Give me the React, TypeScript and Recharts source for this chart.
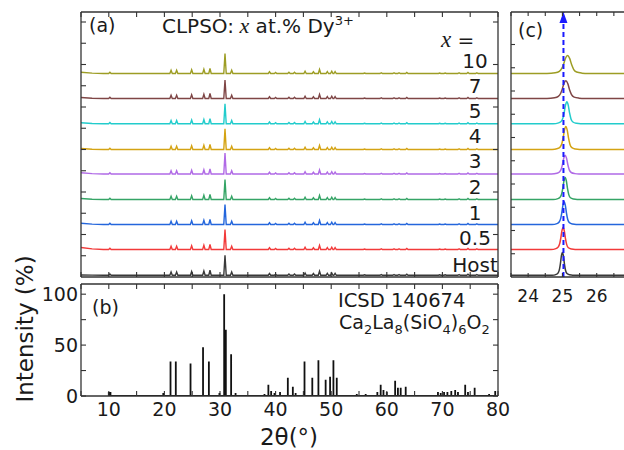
import React from "react";
import { LineChart, Line, XAxis, YAxis, ReferenceLine } from "recharts";

const FONT = "DejaVu Sans, Arial, sans-serif";
const INK = "#1a1a1a";

// doping levels, bottom trace to top trace
const SERIES_NAMES = ["Host", "0.5", "1", "2", "3", "4", "5", "7", "10"];
const SERIES_COLORS = ["#3a3a3a", "#f23a3a", "#2466dc", "#35a466", "#b06ae6", "#d4a313", "#22cccc", "#7f4646", "#9d9d24"];
const OFFSETS = [0.07, 1.1, 2.1, 3.1, 4.12, 5.1, 6.13, 7.14, 8.14];
const LOW_ANGLE_RISE = [0.01, 0.08, 0.05, 0.04, 0.05, 0.04, 0.04, 0.04, 0.05];

// panel (a): reflections seen in the measured patterns (2θ, height)
const PEAK_POS_A = [10.2, 21.2, 22.2, 24.9, 27.1, 28.2, 30.9, 32.1, 38.9, 40.0, 42.4, 43.4, 45.3, 46.8, 47.9, 49.3, 50.1, 50.7, 56.0, 59.0, 61.3, 62.2, 63.6, 69.5, 70.5, 73.0, 74.6, 76.2];
const PEAK_H_A = [0.05, 0.13, 0.13, 0.15, 0.17, 0.2, 0.8, 0.13, 0.07, 0.04, 0.05, 0.05, 0.09, 0.07, 0.16, 0.08, 0.09, 0.08, 0.02, 0.03, 0.03, 0.03, 0.04, 0.02, 0.02, 0.03, 0.04, 0.03];
const MAIN_PEAK = 30.9;
const MAIN_SCALE_A = [1, 1, 1, 1, 1.05, 1.03, 1, 0.92, 1];

// panel (b): ICSD 140674 reference pattern
const STICK_POS = [10.0, 10.3, 14.9, 16.2, 18.3, 19.8, 21.1, 22.05, 24.7, 26.95, 28.0, 29.9, 30.75, 31.05, 32.0, 32.8, 34.9, 37.7, 38.0, 38.7, 39.2, 39.8, 40.8, 42.2, 43.1, 43.6, 45.2, 46.6, 47.7, 49.0, 49.8, 50.4, 51.0, 53.9, 54.6, 55.3, 56.2, 58.3, 58.9, 59.4, 60.0, 61.5, 62.0, 62.5, 63.4, 64.5, 65.3, 68.2, 69.2, 69.7, 70.3, 70.9, 71.6, 72.3, 72.8, 74.1, 74.6, 75.8, 78.4, 79.5];
const STICK_INT = [4, 4, 1, 1, 1, 3, 34, 34, 32, 48, 34, 3, 100, 65, 41, 3, 1, 1, 2, 11, 5, 3, 4, 18, 9, 3, 34, 18, 35, 16, 19, 35, 18, 1, 2, 1, 2, 4, 11, 6, 4, 15, 8, 8, 9, 1, 1, 1, 4, 3, 4, 4, 5, 6, 4, 11, 4, 8, 2, 5];

// panel (c): the ~25° reflection, per series
const PEAK_CENTER_C = [25.0, 25.02, 25.05, 25.08, 25.08, 25.1, 25.13, 25.1, 25.15];
const PEAK_HEIGHT_C = [0.91, 0.88, 0.91, 0.88, 0.75, 0.92, 0.88, 0.71, 0.72];
const PEAK_HWHM_C = [0.06, 0.07, 0.07, 0.07, 0.08, 0.08, 0.08, 0.11, 0.12];
const PROFILE_DX = [-5, -3, -2, -1.4, -1, -0.5, 0, 0.5, 1, 1.5, 2.2, 3.5, 5];
const PROFILE_Y = [0, 0.04, 0.12, 0.28, 0.5, 0.85, 1, 0.84, 0.48, 0.22, 0.08, 0.02, 0];
const DOPING_SHIFT_X = 25.03;

// ticks
const TICKS_X = [5, 10, 15, 20, 25, 30, 35, 40, 45, 50, 55, 60, 65, 70, 75, 80];
const TICKS_Y_A = [0.85, 1.7, 2.55, 3.4, 4.25, 5.1, 5.95, 6.8, 7.65, 8.5, 9.35, 10.2];
const TICKS_Y_A_RIGHT = [1.7, 3.4, 5.1, 6.8, 8.5, 10.2];
const TICKS_Y_B = [0, 25, 50, 75, 100];
const TICKS_X_C = [23.5, 24, 24.5, 25, 25.5, 26, 26.5];
const TICKS_Y_C = [0.93, 1.86, 2.79, 3.72, 4.65, 5.58, 6.51, 7.44, 8.37, 9.3];

const Y_MAX = 10.6;

function traceA(i: number) {
  const off = OFFSETS[i];
  const pts = [{ x: 5, y: off + LOW_ANGLE_RISE[i] }, { x: 7, y: off + LOW_ANGLE_RISE[i] * 0.3 }, { x: 9, y: off }];
  PEAK_POS_A.forEach((p, k) => {
    const h = PEAK_H_A[k] * (p === MAIN_PEAK ? MAIN_SCALE_A[i] : 1);
    pts.push({ x: p - 0.22, y: off }, { x: p, y: off + h }, { x: p + 0.22, y: off });
  });
  pts.push({ x: 80, y: off });
  return pts;
}

function traceC(i: number) {
  const off = OFFSETS[i];
  const pts = [{ x: 23.4, y: off }];
  PROFILE_DX.forEach((d, k) => {
    pts.push({ x: PEAK_CENTER_C[i] + d * PEAK_HWHM_C[i], y: off + PROFILE_Y[k] * PEAK_HEIGHT_C[i] });
  });
  pts.push({ x: 27.1, y: off });
  return pts;
}

const sticks = STICK_POS.flatMap((p, k) => [
  { x: p, y: 0 },
  { x: p, y: STICK_INT[k] },
  { x: p, y: 0 },
]);

const blank = () => "";
const axisLine = { stroke: "#333", strokeWidth: 1.3 };
const tickLine = { stroke: "#333", strokeWidth: 1.1 };
const tickStyle = { fontSize: 19, fill: INK, fontFamily: FONT };

const ArrowHead = (props: any) => {
  const vb = props.viewBox || {};
  const x = vb.x;
  const y = vb.y;
  return <polygon points={`${x - 4},${y + 11} ${x + 4},${y + 11} ${x},${y}`} fill="#1a1aff" />;
};

export default function App() {
  return (
    <div style={{ position: "absolute", left: 0, top: 0, width: 624, height: 450, overflow: "hidden", background: "#fff" }}>
      {/* (a) stacked patterns */}
      <div style={{ position: "absolute", left: 0, top: 0 }}>
        <LineChart width={500} height={282} margin={{ top: 11, right: 1, bottom: 4, left: 80 }}>
          <XAxis xAxisId="b" type="number" dataKey="x" domain={[5, 80]} allowDataOverflow ticks={TICKS_X} interval={0} height={1} tickSize={-5} tickFormatter={blank} axisLine={axisLine} tickLine={tickLine} />
          <XAxis xAxisId="t" orientation="top" type="number" dataKey="x" domain={[5, 80]} allowDataOverflow ticks={TICKS_X} interval={0} height={1} tickSize={-5} tickFormatter={blank} axisLine={axisLine} tickLine={tickLine} />
          <YAxis yAxisId="l" type="number" domain={[0, Y_MAX]} allowDataOverflow ticks={TICKS_Y_A} interval={0} width={1} tickSize={-5} tickFormatter={blank} axisLine={axisLine} tickLine={tickLine} />
          <YAxis yAxisId="r" orientation="right" type="number" domain={[0, Y_MAX]} allowDataOverflow ticks={TICKS_Y_A_RIGHT} interval={0} width={1} tickSize={-5} tickFormatter={blank} axisLine={axisLine} tickLine={tickLine} />
          {SERIES_NAMES.map((name, i) => (
            <Line key={name} xAxisId="b" yAxisId="l" data={traceA(i)} dataKey="y" type="linear" stroke={SERIES_COLORS[i]} strokeWidth={1.4} dot={false} isAnimationActive={false} />
          ))}
        </LineChart>
      </div>

      {/* (b) reference sticks */}
      <div style={{ position: "absolute", left: 0, top: 270 }}>
        <LineChart width={520} height={160} margin={{ top: 13, right: 21, bottom: 9, left: 41 }}>
          <XAxis xAxisId="b" type="number" dataKey="x" domain={[5, 80]} allowDataOverflow ticks={TICKS_X} interval={0} height={25} tickSize={-5} tickMargin={12} tickFormatter={(v: number) => (v % 10 === 0 ? String(v) : "")} tick={tickStyle} axisLine={axisLine} tickLine={tickLine} />
          <XAxis xAxisId="t" orientation="top" type="number" dataKey="x" domain={[5, 80]} allowDataOverflow ticks={TICKS_X} interval={0} height={1} tickSize={-5} tickFormatter={blank} axisLine={axisLine} tickLine={tickLine} />
          <YAxis yAxisId="l" type="number" domain={[0, 110]} allowDataOverflow ticks={TICKS_Y_B} interval={0} width={40} tickSize={-5} tickMargin={8} tickFormatter={(v: number) => (v % 50 === 0 ? String(v) : "")} tick={tickStyle} axisLine={axisLine} tickLine={tickLine} />
          <YAxis yAxisId="r" orientation="right" type="number" domain={[0, 110]} allowDataOverflow ticks={TICKS_Y_B} interval={0} width={1} tickSize={-5} tickFormatter={blank} axisLine={axisLine} tickLine={tickLine} />
          <Line xAxisId="b" yAxisId="l" data={sticks} dataKey="y" type="linear" stroke="#111" strokeWidth={1.8} strokeLinejoin="bevel" dot={false} isAnimationActive={false} />
        </LineChart>
      </div>

      {/* (c) zoom on the ~25° reflection */}
      <div style={{ position: "absolute", left: 470, top: 0 }}>
        <LineChart width={170} height={310} margin={{ top: 11, right: 9, bottom: 8, left: 40 }}>
          <XAxis xAxisId="b" type="number" dataKey="x" domain={[23.5, 27]} allowDataOverflow ticks={TICKS_X_C} interval={0} height={25} tickSize={-4} tickMargin={17} tickFormatter={(v: number) => (Number.isInteger(v) ? String(v) : "")} tick={{ ...tickStyle, fontSize: 17 }} axisLine={axisLine} tickLine={tickLine} />
          <XAxis xAxisId="t" orientation="top" type="number" dataKey="x" domain={[23.5, 27]} allowDataOverflow ticks={TICKS_X_C} interval={0} height={1} tickSize={-4} tickFormatter={blank} axisLine={axisLine} tickLine={tickLine} />
          <YAxis yAxisId="l" type="number" domain={[0, Y_MAX]} allowDataOverflow ticks={TICKS_Y_C} interval={0} width={1} tickSize={-4} tickFormatter={blank} axisLine={axisLine} tickLine={tickLine} />
          {SERIES_NAMES.map((name, i) => (
            <Line key={name} xAxisId="b" yAxisId="l" data={traceC(i)} dataKey="y" type="monotone" stroke={SERIES_COLORS[i]} strokeWidth={1.5} dot={false} isAnimationActive={false} />
          ))}
          <ReferenceLine xAxisId="b" yAxisId="l" x={DOPING_SHIFT_X} stroke="#1a1aff" strokeWidth={2} strokeDasharray="5 3" label={<ArrowHead />} />
        </LineChart>
      </div>

      {/* annotations */}
      <svg width={624} height={450} style={{ position: "absolute", left: 0, top: 0, pointerEvents: "none" }} fontFamily={FONT} fill={INK}>
        <text x={89} y={32} fontSize={19}>(a)</text>
        <text x={162} y={33} fontSize={20}>
          CLPSO:<tspan fontFamily="Liberation Serif" fontStyle="italic" fontSize={22}> x</tspan> at.% Dy<tspan dy={-8} fontSize={13}>3+</tspan>
        </text>
        <text x={441} y={47} fontSize={20}>
          <tspan fontFamily="Liberation Serif" fontStyle="italic" fontSize={23}>x</tspan> =
        </text>
        {SERIES_NAMES.map((name, i) => (
          <text key={name} x={475} y={[272, 245, 220, 194, 168, 143, 118, 93, 68][i]} fontSize={20} textAnchor="middle">{name}</text>
        ))}
        <text x={518} y={37} fontSize={19}>(c)</text>
        <text x={92} y={314} fontSize={19}>(b)</text>
        <text x={338} y={307} fontSize={19.5}>ICSD 140674</text>
        <text x={339} y={329} fontSize={19}>
          Ca<tspan dy={5} fontSize={13}>2</tspan><tspan dy={-5}>La</tspan><tspan dy={5} fontSize={13}>8</tspan><tspan dy={-5}>(SiO</tspan><tspan dy={5} fontSize={13}>4</tspan><tspan dy={-5}>)</tspan><tspan dy={5} fontSize={13}>6</tspan><tspan dy={-5}>O</tspan><tspan dy={5} fontSize={13}>2</tspan>
        </text>
        <text x={33} y={329} fontSize={23} textAnchor="middle" transform="rotate(-90 33 329)">Intensity (%)</text>
        <text x={289} y={445} fontSize={23} textAnchor="middle">2θ(°)</text>
      </svg>
    </div>
  );
}
